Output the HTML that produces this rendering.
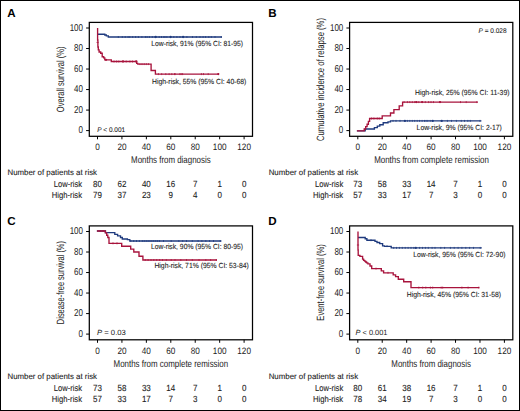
<!DOCTYPE html>
<html><head><meta charset="utf-8"><style>
html,body{margin:0;padding:0;background:#fff;}
body{width:520px;height:411px;overflow:hidden;position:relative;}
svg{position:absolute;left:0;top:0;display:block;}
text{font-family:"Liberation Sans",sans-serif;fill:#222;text-rendering:geometricPrecision;}
.tk{font-size:9.3px;fill:#222;}
.tky{font-size:10px;fill:#222;}
.lab{font-size:11.6px;font-weight:bold;fill:#000;}
.ax{font-size:9.9px;fill:#222;}
.ay{font-size:10.5px;fill:#222;}
.an{font-size:7.4px;fill:#222;stroke:#222;stroke-width:0.1px;}
.pv{font-size:6.8px;fill:#111;stroke:#111;stroke-width:0.05px;}
.pv2{font-size:7.5px;fill:#1a1a1a;}
.rk{font-size:8px;fill:#222;stroke:#222;stroke-width:0.1px;}
.rl{font-size:8.7px;fill:#222;stroke:#222;stroke-width:0.1px;}
.rn{font-size:8.9px;fill:#222;stroke:#222;stroke-width:0.1px;}
</style></head><body>
<svg width="520" height="411" viewBox="0 0 520 411">
<rect x="0.5" y="0.5" width="519" height="410" fill="#fff" stroke="#000" stroke-width="1"/>
<rect x="89.30" y="22.40" width="163.20" height="113.90" fill="none" stroke="#000" stroke-width="1.25"/>
<line x1="86.10" y1="130.60" x2="89.30" y2="130.60" stroke="#000" stroke-width="1"/>
<text transform="translate(83.00,133.40) scale(0.8,1)" class="tky" text-anchor="end">0</text>
<line x1="86.10" y1="110.08" x2="89.30" y2="110.08" stroke="#000" stroke-width="1"/>
<text transform="translate(83.00,112.88) scale(0.8,1)" class="tky" text-anchor="end">20</text>
<line x1="86.10" y1="89.56" x2="89.30" y2="89.56" stroke="#000" stroke-width="1"/>
<text transform="translate(83.00,92.36) scale(0.8,1)" class="tky" text-anchor="end">40</text>
<line x1="86.10" y1="69.04" x2="89.30" y2="69.04" stroke="#000" stroke-width="1"/>
<text transform="translate(83.00,71.84) scale(0.8,1)" class="tky" text-anchor="end">60</text>
<line x1="86.10" y1="48.52" x2="89.30" y2="48.52" stroke="#000" stroke-width="1"/>
<text transform="translate(83.00,51.32) scale(0.8,1)" class="tky" text-anchor="end">80</text>
<line x1="86.10" y1="28.00" x2="89.30" y2="28.00" stroke="#000" stroke-width="1"/>
<text transform="translate(83.00,30.80) scale(0.8,1)" class="tky" text-anchor="end">100</text>
<line x1="97.50" y1="136.30" x2="97.50" y2="139.30" stroke="#000" stroke-width="1"/>
<text transform="translate(97.50,149.70) scale(0.88,1)" class="tk" text-anchor="middle">0</text>
<line x1="121.93" y1="136.30" x2="121.93" y2="139.30" stroke="#000" stroke-width="1"/>
<text transform="translate(121.93,149.70) scale(0.88,1)" class="tk" text-anchor="middle">20</text>
<line x1="146.37" y1="136.30" x2="146.37" y2="139.30" stroke="#000" stroke-width="1"/>
<text transform="translate(146.37,149.70) scale(0.88,1)" class="tk" text-anchor="middle">40</text>
<line x1="170.80" y1="136.30" x2="170.80" y2="139.30" stroke="#000" stroke-width="1"/>
<text transform="translate(170.80,149.70) scale(0.88,1)" class="tk" text-anchor="middle">60</text>
<line x1="195.23" y1="136.30" x2="195.23" y2="139.30" stroke="#000" stroke-width="1"/>
<text transform="translate(195.23,149.70) scale(0.88,1)" class="tk" text-anchor="middle">80</text>
<line x1="219.67" y1="136.30" x2="219.67" y2="139.30" stroke="#000" stroke-width="1"/>
<text transform="translate(219.67,149.70) scale(0.88,1)" class="tk" text-anchor="middle">100</text>
<line x1="244.10" y1="136.30" x2="244.10" y2="139.30" stroke="#000" stroke-width="1"/>
<text transform="translate(244.10,149.70) scale(0.88,1)" class="tk" text-anchor="middle">120</text>
<path d="M97.60 34.20 L104.80 34.20 L104.80 35.00 L106.30 35.00 L106.30 35.80 L108.30 35.80 L108.30 37.00 L221.90 37.00" fill="none" stroke="#1e3a7e" stroke-width="1.35" stroke-linejoin="miter"/>
<path d="M118.30 36.00v2.0 M122.30 36.00v2.0 M125.20 36.00v2.0 M128.10 36.00v2.0 M129.80 36.00v2.0 M132.70 36.00v2.0 M135.60 36.00v2.0 M138.40 36.00v2.0 M141.90 36.00v2.0 M145.40 36.00v2.0 M147.10 36.00v2.0 M149.40 36.00v2.0 M152.30 36.00v2.0 M155.20 36.00v2.0 M159.20 36.00v2.0 M161.50 36.00v2.0 M163.80 36.00v2.0 M165.00 36.00v2.0 M166.90 36.00v2.0 M173.80 36.00v2.0 M176.90 36.00v2.0 M180.00 36.00v2.0 M186.90 36.00v2.0 M192.50 36.00v2.0 M196.30 36.00v2.0 M200.00 36.00v2.0 M203.10 36.00v2.0 M205.60 36.00v2.0 M208.80 36.00v2.0 M211.30 36.00v2.0 M215.00 36.00v2.0 M221.30 36.00v2.0" stroke="#1e3a7e" stroke-width="0.75" fill="none"/>
<circle cx="155.70" cy="37.00" r="1.15" fill="#1e3a7e"/>
<circle cx="170.60" cy="37.00" r="1.15" fill="#1e3a7e"/>
<circle cx="183.10" cy="37.00" r="1.15" fill="#1e3a7e"/>
<path d="M97.60 28.10 L97.60 28.10 L97.60 40.00 L97.90 40.00 L97.90 47.00 L98.30 47.00 L98.30 49.80 L99.10 49.80 L99.10 52.00 L100.70 52.00 L100.70 53.20 L102.20 53.20 L102.20 56.70 L103.70 56.70 L103.70 57.90 L104.80 57.90 L104.80 59.80 L111.30 59.80 L111.30 61.50 L136.70 61.50 L136.70 63.30 L137.80 63.30 L137.80 64.10 L151.10 64.10 L151.10 70.50 L155.40 70.50 L155.40 74.10 L218.80 74.10" fill="none" stroke="#a8133c" stroke-width="1.35" stroke-linejoin="miter"/>
<path d="M114.00 60.50v2.0 M116.60 60.50v2.0 M118.80 60.50v2.0 M126.20 60.50v2.0 M129.90 60.50v2.0 M132.50 60.50v2.0 M139.90 63.10v2.0 M142.00 63.10v2.0 M144.20 63.10v2.0 M146.30 63.10v2.0 M148.40 63.10v2.0 M158.40 73.10v2.0 M161.70 73.10v2.0 M165.80 73.10v2.0 M169.10 73.10v2.0 M171.80 73.10v2.0 M174.50 73.10v2.0 M175.20 73.10v2.0 M179.90 73.10v2.0 M181.20 73.10v2.0 M182.60 73.10v2.0 M201.40 73.10v2.0 M203.50 73.10v2.0 M208.20 73.10v2.0" stroke="#a8133c" stroke-width="0.75" fill="none"/>
<circle cx="106.00" cy="59.80" r="1.15" fill="#a8133c"/>
<circle cx="123.00" cy="61.50" r="1.15" fill="#a8133c"/>
<circle cx="136.20" cy="61.50" r="1.15" fill="#a8133c"/>
<circle cx="218.30" cy="74.10" r="1.15" fill="#a8133c"/>
<path d="M96.50 42.40h2.2" stroke="#a8133c" stroke-width="0.8" fill="none"/>
<rect x="349.60" y="22.40" width="163.20" height="113.90" fill="none" stroke="#000" stroke-width="1.25"/>
<line x1="346.40" y1="130.60" x2="349.60" y2="130.60" stroke="#000" stroke-width="1"/>
<text transform="translate(343.30,133.40) scale(0.8,1)" class="tky" text-anchor="end">0</text>
<line x1="346.40" y1="110.08" x2="349.60" y2="110.08" stroke="#000" stroke-width="1"/>
<text transform="translate(343.30,112.88) scale(0.8,1)" class="tky" text-anchor="end">20</text>
<line x1="346.40" y1="89.56" x2="349.60" y2="89.56" stroke="#000" stroke-width="1"/>
<text transform="translate(343.30,92.36) scale(0.8,1)" class="tky" text-anchor="end">40</text>
<line x1="346.40" y1="69.04" x2="349.60" y2="69.04" stroke="#000" stroke-width="1"/>
<text transform="translate(343.30,71.84) scale(0.8,1)" class="tky" text-anchor="end">60</text>
<line x1="346.40" y1="48.52" x2="349.60" y2="48.52" stroke="#000" stroke-width="1"/>
<text transform="translate(343.30,51.32) scale(0.8,1)" class="tky" text-anchor="end">80</text>
<line x1="346.40" y1="28.00" x2="349.60" y2="28.00" stroke="#000" stroke-width="1"/>
<text transform="translate(343.30,30.80) scale(0.8,1)" class="tky" text-anchor="end">100</text>
<line x1="357.80" y1="136.30" x2="357.80" y2="139.30" stroke="#000" stroke-width="1"/>
<text transform="translate(357.80,149.70) scale(0.88,1)" class="tk" text-anchor="middle">0</text>
<line x1="382.23" y1="136.30" x2="382.23" y2="139.30" stroke="#000" stroke-width="1"/>
<text transform="translate(382.23,149.70) scale(0.88,1)" class="tk" text-anchor="middle">20</text>
<line x1="406.67" y1="136.30" x2="406.67" y2="139.30" stroke="#000" stroke-width="1"/>
<text transform="translate(406.67,149.70) scale(0.88,1)" class="tk" text-anchor="middle">40</text>
<line x1="431.10" y1="136.30" x2="431.10" y2="139.30" stroke="#000" stroke-width="1"/>
<text transform="translate(431.10,149.70) scale(0.88,1)" class="tk" text-anchor="middle">60</text>
<line x1="455.53" y1="136.30" x2="455.53" y2="139.30" stroke="#000" stroke-width="1"/>
<text transform="translate(455.53,149.70) scale(0.88,1)" class="tk" text-anchor="middle">80</text>
<line x1="479.97" y1="136.30" x2="479.97" y2="139.30" stroke="#000" stroke-width="1"/>
<text transform="translate(479.97,149.70) scale(0.88,1)" class="tk" text-anchor="middle">100</text>
<line x1="504.40" y1="136.30" x2="504.40" y2="139.30" stroke="#000" stroke-width="1"/>
<text transform="translate(504.40,149.70) scale(0.88,1)" class="tk" text-anchor="middle">120</text>
<path d="M356.90 130.80 L365.20 130.80 L365.20 129.00 L374.40 129.00 L374.40 127.60 L377.30 127.60 L377.30 126.10 L379.80 126.10 L379.80 124.70 L383.20 124.70 L383.20 122.70 L388.00 122.70 L388.00 121.80 L390.50 121.80 L390.50 120.90 L481.40 120.90" fill="none" stroke="#1e3a7e" stroke-width="1.35" stroke-linejoin="miter"/>
<path d="M393.00 119.90v2.0 M396.00 119.90v2.0 M400.00 119.90v2.0 M407.40 119.90v2.0 M409.80 119.90v2.0 M412.30 119.90v2.0 M414.70 119.90v2.0 M417.20 119.90v2.0 M419.60 119.90v2.0 M422.10 119.90v2.0 M424.50 119.90v2.0 M426.10 119.90v2.0 M427.80 119.90v2.0 M430.20 119.90v2.0 M447.40 119.90v2.0 M451.50 119.90v2.0 M456.40 119.90v2.0 M461.30 119.90v2.0 M464.50 119.90v2.0 M467.80 119.90v2.0 M470.30 119.90v2.0 M480.00 119.90v2.0" stroke="#1e3a7e" stroke-width="0.75" fill="none"/>
<circle cx="404.90" cy="120.90" r="1.15" fill="#1e3a7e"/>
<circle cx="432.70" cy="120.90" r="1.15" fill="#1e3a7e"/>
<circle cx="441.70" cy="120.90" r="1.15" fill="#1e3a7e"/>
<path d="M356.90 130.80 L364.20 130.80 L364.20 129.00 L365.70 129.00 L365.70 126.60 L367.10 126.60 L367.10 124.20 L368.40 124.20 L368.40 121.30 L369.60 121.30 L369.60 118.50 L382.20 118.50 L382.20 115.90 L390.50 115.90 L390.50 113.00 L393.90 113.00 L393.90 109.60 L399.20 109.60 L399.20 105.90 L402.60 105.90 L402.60 102.10 L477.90 102.10" fill="none" stroke="#a8133c" stroke-width="1.35" stroke-linejoin="miter"/>
<path d="M371.50 117.50v2.0 M373.90 117.50v2.0 M377.30 117.50v2.0 M379.30 117.50v2.0 M404.10 101.10v2.0 M407.40 101.10v2.0 M409.80 101.10v2.0 M412.30 101.10v2.0 M414.70 101.10v2.0 M418.80 101.10v2.0 M425.30 101.10v2.0 M428.60 101.10v2.0 M431.00 101.10v2.0 M433.50 101.10v2.0 M460.50 101.10v2.0 M466.20 101.10v2.0 M476.80 101.10v2.0" stroke="#a8133c" stroke-width="0.75" fill="none"/>
<circle cx="416.30" cy="102.10" r="1.15" fill="#a8133c"/>
<circle cx="422.10" cy="102.10" r="1.15" fill="#a8133c"/>
<circle cx="440.00" cy="102.10" r="1.15" fill="#a8133c"/>
<rect x="89.30" y="225.90" width="163.20" height="113.90" fill="none" stroke="#000" stroke-width="1.25"/>
<line x1="86.10" y1="334.10" x2="89.30" y2="334.10" stroke="#000" stroke-width="1"/>
<text transform="translate(83.00,336.90) scale(0.8,1)" class="tky" text-anchor="end">0</text>
<line x1="86.10" y1="313.58" x2="89.30" y2="313.58" stroke="#000" stroke-width="1"/>
<text transform="translate(83.00,316.38) scale(0.8,1)" class="tky" text-anchor="end">20</text>
<line x1="86.10" y1="293.06" x2="89.30" y2="293.06" stroke="#000" stroke-width="1"/>
<text transform="translate(83.00,295.86) scale(0.8,1)" class="tky" text-anchor="end">40</text>
<line x1="86.10" y1="272.54" x2="89.30" y2="272.54" stroke="#000" stroke-width="1"/>
<text transform="translate(83.00,275.34) scale(0.8,1)" class="tky" text-anchor="end">60</text>
<line x1="86.10" y1="252.02" x2="89.30" y2="252.02" stroke="#000" stroke-width="1"/>
<text transform="translate(83.00,254.82) scale(0.8,1)" class="tky" text-anchor="end">80</text>
<line x1="86.10" y1="231.50" x2="89.30" y2="231.50" stroke="#000" stroke-width="1"/>
<text transform="translate(83.00,234.30) scale(0.8,1)" class="tky" text-anchor="end">100</text>
<line x1="97.50" y1="339.80" x2="97.50" y2="342.80" stroke="#000" stroke-width="1"/>
<text transform="translate(97.50,353.60) scale(0.88,1)" class="tk" text-anchor="middle">0</text>
<line x1="121.93" y1="339.80" x2="121.93" y2="342.80" stroke="#000" stroke-width="1"/>
<text transform="translate(121.93,353.60) scale(0.88,1)" class="tk" text-anchor="middle">20</text>
<line x1="146.37" y1="339.80" x2="146.37" y2="342.80" stroke="#000" stroke-width="1"/>
<text transform="translate(146.37,353.60) scale(0.88,1)" class="tk" text-anchor="middle">40</text>
<line x1="170.80" y1="339.80" x2="170.80" y2="342.80" stroke="#000" stroke-width="1"/>
<text transform="translate(170.80,353.60) scale(0.88,1)" class="tk" text-anchor="middle">60</text>
<line x1="195.23" y1="339.80" x2="195.23" y2="342.80" stroke="#000" stroke-width="1"/>
<text transform="translate(195.23,353.60) scale(0.88,1)" class="tk" text-anchor="middle">80</text>
<line x1="219.67" y1="339.80" x2="219.67" y2="342.80" stroke="#000" stroke-width="1"/>
<text transform="translate(219.67,353.60) scale(0.88,1)" class="tk" text-anchor="middle">100</text>
<line x1="244.10" y1="339.80" x2="244.10" y2="342.80" stroke="#000" stroke-width="1"/>
<text transform="translate(244.10,353.60) scale(0.88,1)" class="tk" text-anchor="middle">120</text>
<path d="M96.90 231.00 L105.50 231.00 L105.50 232.60 L114.80 232.60 L114.80 234.30 L117.60 234.30 L117.60 235.80 L120.50 235.80 L120.50 237.50 L122.30 237.50 L122.30 239.00 L127.40 239.00 L127.40 239.60 L129.80 239.60 L129.80 241.00 L221.40 241.00" fill="none" stroke="#1e3a7e" stroke-width="1.35" stroke-linejoin="miter"/>
<path d="M130.80 240.00v2.0 M133.70 240.00v2.0 M136.50 240.00v2.0 M139.40 240.00v2.0 M142.30 240.00v2.0 M144.20 240.00v2.0 M146.20 240.00v2.0 M148.10 240.00v2.0 M150.00 240.00v2.0 M151.90 240.00v2.0 M153.80 240.00v2.0 M155.80 240.00v2.0 M157.70 240.00v2.0 M159.60 240.00v2.0 M163.50 240.00v2.0 M171.20 240.00v2.0 M178.80 240.00v2.0 M182.70 240.00v2.0 M186.50 240.00v2.0 M192.30 240.00v2.0 M198.10 240.00v2.0 M201.90 240.00v2.0 M205.80 240.00v2.0 M209.60 240.00v2.0 M213.50 240.00v2.0 M220.20 240.00v2.0" stroke="#1e3a7e" stroke-width="0.75" fill="none"/>
<path d="M96.90 231.00 L105.30 231.00 L105.30 232.90 L106.70 232.90 L106.70 235.20 L107.80 235.20 L107.80 237.50 L109.00 237.50 L109.00 243.30 L121.70 243.30 L121.70 246.20 L130.70 246.20 L130.70 249.10 L133.80 249.10 L133.80 252.00 L139.00 252.00 L139.00 256.20 L142.90 256.20 L142.90 260.00 L217.00 260.00" fill="none" stroke="#a8133c" stroke-width="1.35" stroke-linejoin="miter"/>
<path d="M100.00 230.00v2.0 M103.00 230.00v2.0 M113.00 242.30v2.0 M117.00 242.30v2.0 M145.20 259.00v2.0 M148.10 259.00v2.0 M151.00 259.00v2.0 M153.80 259.00v2.0 M156.70 259.00v2.0 M159.60 259.00v2.0 M162.50 259.00v2.0 M166.30 259.00v2.0 M171.20 259.00v2.0 M175.00 259.00v2.0 M180.80 259.00v2.0 M186.50 259.00v2.0 M192.30 259.00v2.0 M199.00 259.00v2.0 M205.80 259.00v2.0 M210.60 259.00v2.0 M216.30 259.00v2.0" stroke="#a8133c" stroke-width="0.75" fill="none"/>
<rect x="349.60" y="225.90" width="163.20" height="113.90" fill="none" stroke="#000" stroke-width="1.25"/>
<line x1="346.40" y1="334.10" x2="349.60" y2="334.10" stroke="#000" stroke-width="1"/>
<text transform="translate(343.30,336.90) scale(0.8,1)" class="tky" text-anchor="end">0</text>
<line x1="346.40" y1="313.58" x2="349.60" y2="313.58" stroke="#000" stroke-width="1"/>
<text transform="translate(343.30,316.38) scale(0.8,1)" class="tky" text-anchor="end">20</text>
<line x1="346.40" y1="293.06" x2="349.60" y2="293.06" stroke="#000" stroke-width="1"/>
<text transform="translate(343.30,295.86) scale(0.8,1)" class="tky" text-anchor="end">40</text>
<line x1="346.40" y1="272.54" x2="349.60" y2="272.54" stroke="#000" stroke-width="1"/>
<text transform="translate(343.30,275.34) scale(0.8,1)" class="tky" text-anchor="end">60</text>
<line x1="346.40" y1="252.02" x2="349.60" y2="252.02" stroke="#000" stroke-width="1"/>
<text transform="translate(343.30,254.82) scale(0.8,1)" class="tky" text-anchor="end">80</text>
<line x1="346.40" y1="231.50" x2="349.60" y2="231.50" stroke="#000" stroke-width="1"/>
<text transform="translate(343.30,234.30) scale(0.8,1)" class="tky" text-anchor="end">100</text>
<line x1="357.80" y1="339.80" x2="357.80" y2="342.80" stroke="#000" stroke-width="1"/>
<text transform="translate(357.80,353.60) scale(0.88,1)" class="tk" text-anchor="middle">0</text>
<line x1="382.23" y1="339.80" x2="382.23" y2="342.80" stroke="#000" stroke-width="1"/>
<text transform="translate(382.23,353.60) scale(0.88,1)" class="tk" text-anchor="middle">20</text>
<line x1="406.67" y1="339.80" x2="406.67" y2="342.80" stroke="#000" stroke-width="1"/>
<text transform="translate(406.67,353.60) scale(0.88,1)" class="tk" text-anchor="middle">40</text>
<line x1="431.10" y1="339.80" x2="431.10" y2="342.80" stroke="#000" stroke-width="1"/>
<text transform="translate(431.10,353.60) scale(0.88,1)" class="tk" text-anchor="middle">60</text>
<line x1="455.53" y1="339.80" x2="455.53" y2="342.80" stroke="#000" stroke-width="1"/>
<text transform="translate(455.53,353.60) scale(0.88,1)" class="tk" text-anchor="middle">80</text>
<line x1="479.97" y1="339.80" x2="479.97" y2="342.80" stroke="#000" stroke-width="1"/>
<text transform="translate(479.97,353.60) scale(0.88,1)" class="tk" text-anchor="middle">100</text>
<line x1="504.40" y1="339.80" x2="504.40" y2="342.80" stroke="#000" stroke-width="1"/>
<text transform="translate(504.40,353.60) scale(0.88,1)" class="tk" text-anchor="middle">120</text>
<path d="M358.00 237.50 L365.20 237.50 L365.20 238.70 L366.90 238.70 L366.90 240.20 L375.00 240.20 L375.00 241.40 L377.00 241.40 L377.00 242.50 L379.70 242.50 L379.70 243.60 L382.60 243.60 L382.60 245.80 L384.50 245.80 L384.50 246.30 L391.20 246.30 L391.20 247.90 L481.80 247.90" fill="none" stroke="#1e3a7e" stroke-width="1.35" stroke-linejoin="miter"/>
<path d="M371.00 239.20v2.0 M387.00 245.10v2.0 M393.70 246.90v2.0 M396.50 246.90v2.0 M399.40 246.90v2.0 M402.30 246.90v2.0 M405.20 246.90v2.0 M408.10 246.90v2.0 M411.00 246.90v2.0 M413.80 246.90v2.0 M419.60 246.90v2.0 M422.50 246.90v2.0 M425.40 246.90v2.0 M428.30 246.90v2.0 M432.10 246.90v2.0 M435.00 246.90v2.0 M440.80 246.90v2.0 M444.60 246.90v2.0 M450.40 246.90v2.0 M454.20 246.90v2.0 M458.10 246.90v2.0 M461.90 246.90v2.0 M465.80 246.90v2.0 M469.60 246.90v2.0 M473.50 246.90v2.0 M480.20 246.90v2.0" stroke="#1e3a7e" stroke-width="0.75" fill="none"/>
<circle cx="415.80" cy="247.90" r="1.15" fill="#1e3a7e"/>
<path d="M358.00 231.50 L358.00 231.50 L358.00 250.00 L358.20 250.00 L358.20 255.30 L359.90 255.30 L359.90 256.40 L362.60 256.40 L362.60 259.10 L363.60 259.10 L363.60 260.30 L364.60 260.30 L364.60 261.10 L365.60 261.10 L365.60 262.00 L366.60 262.00 L366.60 262.80 L367.90 262.80 L367.90 263.90 L370.00 263.90 L370.00 266.00 L371.70 266.00 L371.70 268.60 L381.30 268.60 L381.30 270.80 L383.60 270.80 L383.60 272.80 L393.20 272.80 L393.20 274.80 L395.60 274.80 L395.60 276.60 L398.30 276.60 L398.30 279.20 L403.70 279.20 L403.70 281.70 L411.00 281.70 L411.00 287.60 L479.40 287.60" fill="none" stroke="#a8133c" stroke-width="1.35" stroke-linejoin="miter"/>
<path d="M376.00 267.60v2.0 M388.00 271.80v2.0 M418.80 286.60v2.0 M422.70 286.60v2.0 M425.80 286.60v2.0 M430.40 286.60v2.0 M432.70 286.60v2.0 M441.20 286.60v2.0 M442.70 286.60v2.0 M461.90 286.60v2.0 M468.10 286.60v2.0 M478.80 286.60v2.0" stroke="#a8133c" stroke-width="0.75" fill="none"/>
<path d="M356.90 245.00h2.2" stroke="#a8133c" stroke-width="0.8" fill="none"/>
<text x="7.30" y="16.90" class="lab" text-anchor="start">A</text>
<text x="268.30" y="16.90" class="lab" text-anchor="start">B</text>
<text x="7.30" y="225.00" class="lab" text-anchor="start">C</text>
<text x="268.30" y="225.00" class="lab" text-anchor="start">D</text>
<text transform="translate(64.00,79.30) rotate(-90)" x="0" y="0" class="ay" text-anchor="middle" textLength="65.80" lengthAdjust="spacingAndGlyphs">Overall survival (%)</text>
<text transform="translate(324.40,79.50) rotate(-90)" x="0" y="0" class="ay" text-anchor="middle" textLength="123.00" lengthAdjust="spacingAndGlyphs">Cumulative incidence of relapse (%)</text>
<text transform="translate(63.80,282.60) rotate(-90)" x="0" y="0" class="ay" text-anchor="middle" textLength="83.10" lengthAdjust="spacingAndGlyphs">Disease-free survival (%)</text>
<text transform="translate(324.00,282.50) rotate(-90)" x="0" y="0" class="ay" text-anchor="middle" textLength="76.30" lengthAdjust="spacingAndGlyphs">Event-free survival (%)</text>
<text x="170.85" y="162.90" class="ax" text-anchor="middle" textLength="79.50" lengthAdjust="spacingAndGlyphs">Months from diagnosis</text>
<text x="431.50" y="162.90" class="ax" text-anchor="middle" textLength="114.60" lengthAdjust="spacingAndGlyphs">Months from complete remission</text>
<text x="170.85" y="367.10" class="ax" text-anchor="middle" textLength="114.60" lengthAdjust="spacingAndGlyphs">Months from complete remission</text>
<text x="431.10" y="367.00" class="ax" text-anchor="middle" textLength="79.50" lengthAdjust="spacingAndGlyphs">Months from diagnosis</text>
<text x="151.30" y="46.40" class="an" text-anchor="start" textLength="91.70" lengthAdjust="spacingAndGlyphs">Low-risk, 91% (95% CI: 81-95)</text>
<text x="152.10" y="83.60" class="an" text-anchor="start" textLength="94.20" lengthAdjust="spacingAndGlyphs">High-risk, 55% (95% CI: 40-68)</text>
<text x="415.00" y="94.80" class="an" text-anchor="start" textLength="94.50" lengthAdjust="spacingAndGlyphs">High-risk, 25% (95% CI: 11-39)</text>
<text x="416.60" y="129.50" class="an" text-anchor="start" textLength="85.20" lengthAdjust="spacingAndGlyphs">Low-risk, 9% (95% CI: 2-17)</text>
<text x="151.00" y="249.20" class="an" text-anchor="start" textLength="91.90" lengthAdjust="spacingAndGlyphs">Low-risk, 90% (95% CI: 80-95)</text>
<text x="154.40" y="268.40" class="an" text-anchor="start" textLength="94.40" lengthAdjust="spacingAndGlyphs">High-risk, 71% (95% CI: 53-84)</text>
<text x="413.30" y="256.70" class="an" text-anchor="start" textLength="92.10" lengthAdjust="spacingAndGlyphs">Low-risk, 95% (95% CI: 72-90)</text>
<text x="406.80" y="297.40" class="an" text-anchor="start" textLength="94.20" lengthAdjust="spacingAndGlyphs">High-risk, 45% (95% CI: 31-58)</text>
<text x="97.2" y="131.8" class="pv" textLength="27.9" lengthAdjust="spacingAndGlyphs"><tspan font-style="italic">P</tspan> &lt; 0.001</text>
<text x="478.5" y="32.6" class="pv" textLength="28.1" lengthAdjust="spacingAndGlyphs"><tspan font-style="italic">P</tspan> = 0.028</text>
<text x="97.0" y="335.0" class="pv2" textLength="28.8" lengthAdjust="spacingAndGlyphs"><tspan font-style="italic">P</tspan> = 0.03</text>
<text x="355.5" y="335.0" class="pv2" textLength="32.0" lengthAdjust="spacingAndGlyphs"><tspan font-style="italic">P</tspan> &lt; 0.001</text>
<text x="7.50" y="175.20" class="rk" text-anchor="start" textLength="89.50" lengthAdjust="spacingAndGlyphs">Number of patients at risk</text>
<text x="82.00" y="187.00" class="rl" text-anchor="end" textLength="28.20" lengthAdjust="spacingAndGlyphs">Low-risk</text>
<text x="82.00" y="198.40" class="rl" text-anchor="end" textLength="30.20" lengthAdjust="spacingAndGlyphs">High-risk</text>
<text transform="translate(97.50,187.00) scale(0.9,1)" class="rn" text-anchor="middle">80</text>
<text transform="translate(97.50,198.40) scale(0.9,1)" class="rn" text-anchor="middle">79</text>
<text transform="translate(121.93,187.00) scale(0.9,1)" class="rn" text-anchor="middle">62</text>
<text transform="translate(121.93,198.40) scale(0.9,1)" class="rn" text-anchor="middle">37</text>
<text transform="translate(146.37,187.00) scale(0.9,1)" class="rn" text-anchor="middle">40</text>
<text transform="translate(146.37,198.40) scale(0.9,1)" class="rn" text-anchor="middle">23</text>
<text transform="translate(170.80,187.00) scale(0.9,1)" class="rn" text-anchor="middle">16</text>
<text transform="translate(170.80,198.40) scale(0.9,1)" class="rn" text-anchor="middle">9</text>
<text transform="translate(195.23,187.00) scale(0.9,1)" class="rn" text-anchor="middle">7</text>
<text transform="translate(195.23,198.40) scale(0.9,1)" class="rn" text-anchor="middle">4</text>
<text transform="translate(219.67,187.00) scale(0.9,1)" class="rn" text-anchor="middle">1</text>
<text transform="translate(219.67,198.40) scale(0.9,1)" class="rn" text-anchor="middle">0</text>
<text transform="translate(244.10,187.00) scale(0.9,1)" class="rn" text-anchor="middle">0</text>
<text transform="translate(244.10,198.40) scale(0.9,1)" class="rn" text-anchor="middle">0</text>
<text x="268.70" y="175.20" class="rk" text-anchor="start" textLength="89.50" lengthAdjust="spacingAndGlyphs">Number of patients at risk</text>
<text x="343.20" y="187.00" class="rl" text-anchor="end" textLength="28.20" lengthAdjust="spacingAndGlyphs">Low-risk</text>
<text x="343.20" y="198.40" class="rl" text-anchor="end" textLength="30.20" lengthAdjust="spacingAndGlyphs">High-risk</text>
<text transform="translate(357.80,187.00) scale(0.9,1)" class="rn" text-anchor="middle">73</text>
<text transform="translate(357.80,198.40) scale(0.9,1)" class="rn" text-anchor="middle">57</text>
<text transform="translate(382.23,187.00) scale(0.9,1)" class="rn" text-anchor="middle">58</text>
<text transform="translate(382.23,198.40) scale(0.9,1)" class="rn" text-anchor="middle">33</text>
<text transform="translate(406.67,187.00) scale(0.9,1)" class="rn" text-anchor="middle">33</text>
<text transform="translate(406.67,198.40) scale(0.9,1)" class="rn" text-anchor="middle">17</text>
<text transform="translate(431.10,187.00) scale(0.9,1)" class="rn" text-anchor="middle">14</text>
<text transform="translate(431.10,198.40) scale(0.9,1)" class="rn" text-anchor="middle">7</text>
<text transform="translate(455.53,187.00) scale(0.9,1)" class="rn" text-anchor="middle">7</text>
<text transform="translate(455.53,198.40) scale(0.9,1)" class="rn" text-anchor="middle">3</text>
<text transform="translate(479.97,187.00) scale(0.9,1)" class="rn" text-anchor="middle">1</text>
<text transform="translate(479.97,198.40) scale(0.9,1)" class="rn" text-anchor="middle">0</text>
<text transform="translate(504.40,187.00) scale(0.9,1)" class="rn" text-anchor="middle">0</text>
<text transform="translate(504.40,198.40) scale(0.9,1)" class="rn" text-anchor="middle">0</text>
<text x="7.50" y="378.70" class="rk" text-anchor="start" textLength="89.50" lengthAdjust="spacingAndGlyphs">Number of patients at risk</text>
<text x="82.00" y="390.50" class="rl" text-anchor="end" textLength="28.20" lengthAdjust="spacingAndGlyphs">Low-risk</text>
<text x="82.00" y="401.90" class="rl" text-anchor="end" textLength="30.20" lengthAdjust="spacingAndGlyphs">High-risk</text>
<text transform="translate(97.50,390.50) scale(0.9,1)" class="rn" text-anchor="middle">73</text>
<text transform="translate(97.50,401.90) scale(0.9,1)" class="rn" text-anchor="middle">57</text>
<text transform="translate(121.93,390.50) scale(0.9,1)" class="rn" text-anchor="middle">58</text>
<text transform="translate(121.93,401.90) scale(0.9,1)" class="rn" text-anchor="middle">33</text>
<text transform="translate(146.37,390.50) scale(0.9,1)" class="rn" text-anchor="middle">33</text>
<text transform="translate(146.37,401.90) scale(0.9,1)" class="rn" text-anchor="middle">17</text>
<text transform="translate(170.80,390.50) scale(0.9,1)" class="rn" text-anchor="middle">14</text>
<text transform="translate(170.80,401.90) scale(0.9,1)" class="rn" text-anchor="middle">7</text>
<text transform="translate(195.23,390.50) scale(0.9,1)" class="rn" text-anchor="middle">7</text>
<text transform="translate(195.23,401.90) scale(0.9,1)" class="rn" text-anchor="middle">3</text>
<text transform="translate(219.67,390.50) scale(0.9,1)" class="rn" text-anchor="middle">1</text>
<text transform="translate(219.67,401.90) scale(0.9,1)" class="rn" text-anchor="middle">0</text>
<text transform="translate(244.10,390.50) scale(0.9,1)" class="rn" text-anchor="middle">0</text>
<text transform="translate(244.10,401.90) scale(0.9,1)" class="rn" text-anchor="middle">0</text>
<text x="268.70" y="378.70" class="rk" text-anchor="start" textLength="89.50" lengthAdjust="spacingAndGlyphs">Number of patients at risk</text>
<text x="343.20" y="390.50" class="rl" text-anchor="end" textLength="28.20" lengthAdjust="spacingAndGlyphs">Low-risk</text>
<text x="343.20" y="401.90" class="rl" text-anchor="end" textLength="30.20" lengthAdjust="spacingAndGlyphs">High-risk</text>
<text transform="translate(357.80,390.50) scale(0.9,1)" class="rn" text-anchor="middle">80</text>
<text transform="translate(357.80,401.90) scale(0.9,1)" class="rn" text-anchor="middle">78</text>
<text transform="translate(382.23,390.50) scale(0.9,1)" class="rn" text-anchor="middle">61</text>
<text transform="translate(382.23,401.90) scale(0.9,1)" class="rn" text-anchor="middle">34</text>
<text transform="translate(406.67,390.50) scale(0.9,1)" class="rn" text-anchor="middle">38</text>
<text transform="translate(406.67,401.90) scale(0.9,1)" class="rn" text-anchor="middle">19</text>
<text transform="translate(431.10,390.50) scale(0.9,1)" class="rn" text-anchor="middle">16</text>
<text transform="translate(431.10,401.90) scale(0.9,1)" class="rn" text-anchor="middle">7</text>
<text transform="translate(455.53,390.50) scale(0.9,1)" class="rn" text-anchor="middle">7</text>
<text transform="translate(455.53,401.90) scale(0.9,1)" class="rn" text-anchor="middle">3</text>
<text transform="translate(479.97,390.50) scale(0.9,1)" class="rn" text-anchor="middle">1</text>
<text transform="translate(479.97,401.90) scale(0.9,1)" class="rn" text-anchor="middle">0</text>
<text transform="translate(504.40,390.50) scale(0.9,1)" class="rn" text-anchor="middle">0</text>
<text transform="translate(504.40,401.90) scale(0.9,1)" class="rn" text-anchor="middle">0</text>
</svg>
</body></html>
